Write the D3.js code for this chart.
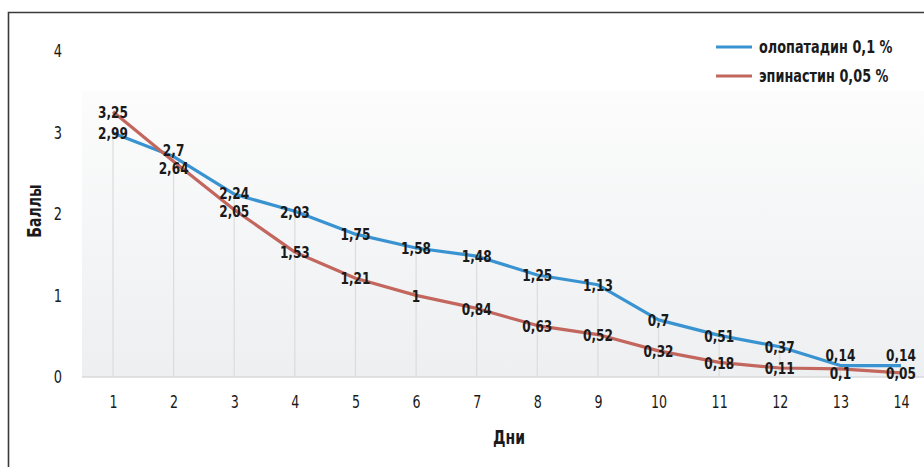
<!DOCTYPE html>
<html>
<head>
<meta charset="utf-8">
<script src="https://cdn.jsdelivr.net/npm/d3@7"></script>
<style>
  html, body { margin: 0; padding: 0; background: #fff; }
  svg { display: block; }
  text { font-family: "DejaVu Sans Condensed", "DejaVu Sans", sans-serif; fill: #1a1a1a; }
</style>
</head>
<body>
<svg id="chart" width="924" height="467"></svg>
<script>
// Days of observation and mean symptom scores
const days = [1, 2, 3, 4, 5, 6, 7, 8, 9, 10, 11, 12, 13, 14];
const olopatadine = [2.99, 2.7, 2.24, 2.03, 1.75, 1.58, 1.48, 1.25, 1.13, 0.7, 0.51, 0.37, 0.14, 0.14];
const epinastine = [3.25, 2.64, 2.05, 1.53, 1.21, 1, 0.84, 0.63, 0.52, 0.32, 0.18, 0.11, 0.1, 0.05];
const yTicks = [0, 1, 2, 3, 4];
const seriesNames = ["олопатадин 0,1 %", "эпинастин 0,05 %"];
const axisTitles = { y: "Баллы", x: "Дни" };

const colors = ["#3993d1", "#c2665e"];
const svg = d3.select("#chart");

const x = d3.scaleLinear().domain([1, 14]).range([113, 901]);
const y = d3.scaleLinear().domain([0, 4]).range([377, 50.5]);

// narrow text: horizontally squeezed around its anchor point
function narrowText(parent, px, py, str, opts) {
  const g = parent.append("g")
    .attr("transform", `translate(${px},${py})${opts.rotate ? " rotate(" + opts.rotate + ")" : ""} scale(${opts.sx},1)`);
  return g.append("text")
    .attr("text-anchor", opts.anchor || "middle")
    .attr("dy", opts.dy || "0.35em")
    .attr("font-size", opts.size)
    .attr("font-weight", opts.weight || "normal")
    .text(str);
}

// outer frame
svg.append("path")
  .attr("d", "M924,12.5 H8.5 V467")
  .attr("fill", "none").attr("stroke", "#3a3a3a").attr("stroke-width", 1.6);

// plot background gradient
const defs = svg.append("defs");
const grad = defs.append("linearGradient").attr("id", "bg").attr("x1", 0).attr("y1", 0).attr("x2", 0).attr("y2", 1);
grad.append("stop").attr("offset", 0).attr("stop-color", "#fcfcfc");
grad.append("stop").attr("offset", 1).attr("stop-color", "#edeff1");
svg.append("rect")
  .attr("x", 82).attr("y", 91).attr("width", 924 - 82).attr("height", y(0) - 91)
  .attr("fill", "url(#bg)");

// drop lines from the upper series to the baseline
svg.append("g").selectAll("line").data(days).join("line")
  .attr("x1", d => x(d)).attr("x2", d => x(d))
  .attr("y1", (d, i) => y(olopatadine[i])).attr("y2", y(0))
  .attr("stroke", "#dcdcdc").attr("stroke-width", 1.2);

// baseline
svg.append("line")
  .attr("x1", 82).attr("x2", 924).attr("y1", y(0)).attr("y2", y(0))
  .attr("stroke", "#d6d8da").attr("stroke-width", 1.5);

// y axis labels
const yAxis = d3.axisLeft(y).tickValues(yTicks).tickFormat(d3.format("d")).tickSize(0).tickPadding(0);
const gy = svg.append("g").attr("transform", "translate(58,0)").call(yAxis);
gy.select(".domain").remove();
gy.selectAll("text").attr("font-size", 18.5).attr("fill", "#1a1a1a")
  .style("font-family", null).attr("text-anchor", "middle").attr("x", 0)
  .attr("transform", "scale(0.78,1)");

// x axis labels
const xAxis = d3.axisBottom(x).tickValues(days).tickFormat(d3.format("d")).tickSize(0).tickPadding(0);
const gx = svg.append("g").attr("transform", "translate(0,395)").call(xAxis);
gx.select(".domain").remove();
gx.selectAll("text").attr("font-size", 18.5).attr("fill", "#1a1a1a").style("font-family", null)
  .attr("transform", "scale(0.76,1)");

// axis titles
narrowText(svg, 34, 211, axisTitles.y, { rotate: -90, sx: 0.82, size: 19, weight: "bold" });
narrowText(svg, 509, 437, axisTitles.x, { sx: 0.82, size: 19, weight: "bold" });

// series lines
const line = d3.line().x((d, i) => x(days[i])).y(d => y(d));
[olopatadine, epinastine].forEach((s, k) => {
  svg.append("path").datum(s)
    .attr("d", line)
    .attr("fill", "none").attr("stroke", colors[k]).attr("stroke-width", 3.2)
    .attr("stroke-linejoin", "round");
});

// value labels: centred on points, spread apart when they would overlap
const fmt = v => String(v).replace(".", ",");
const minGap = 18;
const labels = [];
days.forEach((d, i) => {
  const ya = y(olopatadine[i]), yb = y(epinastine[i]);
  const upperA = ya <= yb;
  let top = Math.min(ya, yb), bot = Math.max(ya, yb);
  if (bot - top < minGap) {
    const mid = (top + bot) / 2;
    top = mid - minGap / 2; bot = mid + minGap / 2;
    if (bot > y(0) - 4) { bot = y(0) - 4; top = bot - minGap; }
  }
  labels.push({ x: x(d), y: (upperA ? top : bot) + 1, t: fmt(olopatadine[i]) });
  labels.push({ x: x(d), y: (upperA ? bot : top) + 1, t: fmt(epinastine[i]) });
});
const lg = svg.append("g");
labels.forEach(l => narrowText(lg, l.x, l.y, l.t, { sx: 0.9, size: 15, weight: "bold" }));

// legend
const legend = svg.append("g");
seriesNames.forEach((name, k) => {
  const ly = 47 + k * 29;
  legend.append("line")
    .attr("x1", 716).attr("x2", 752).attr("y1", ly).attr("y2", ly)
    .attr("stroke", colors[k]).attr("stroke-width", 3.2);
  narrowText(legend, 759, ly, name, { anchor: "start", sx: 0.84, size: 17, weight: "bold" });
});
</script>
</body>
</html>
